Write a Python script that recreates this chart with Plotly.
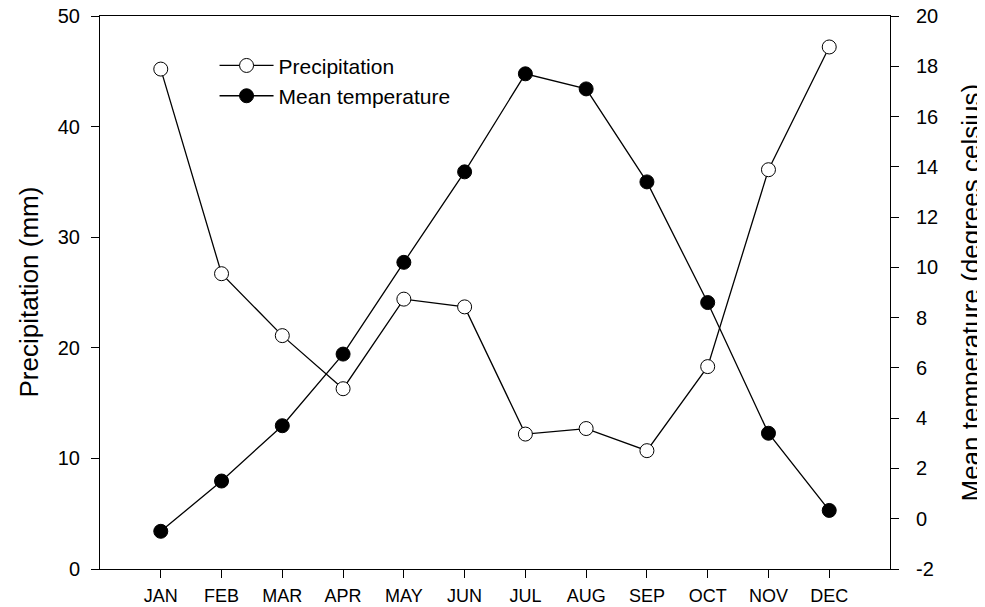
import plotly.graph_objects as go

months = ["JAN", "FEB", "MAR", "APR", "MAY", "JUN", "JUL", "AUG", "SEP", "OCT", "NOV", "DEC"]
month_pos = [1, 2, 3, 4, 5, 6, 7, 8, 9, 10, 11, 12]
precipitation = [45.2, 26.7, 21.1, 16.3, 24.4, 23.7, 12.2, 12.7, 10.7, 18.3, 36.1, 47.2]
mean_temperature = [-0.5, 1.5, 3.7, 6.55, 10.2, 13.8, 17.7, 17.1, 13.4, 8.6, 3.4, 0.33]

left_ticks = [0, 10, 20, 30, 40, 50]
right_ticks = [-2, 0, 2, 4, 6, 8, 10, 12, 14, 16, 18, 20]

FONT = "Arial, Liberation Sans, sans-serif"

fig = go.Figure()
fig.add_trace(go.Scatter(
    x=month_pos, y=precipitation, name="Precipitation",
    mode="lines+markers",
    line=dict(color="black", width=1.3),
    marker=dict(symbol="circle", size=14, color="white", line=dict(color="black", width=1)),
))
fig.add_trace(go.Scatter(
    x=month_pos, y=mean_temperature, name="Mean temperature",
    mode="lines+markers", yaxis="y2",
    line=dict(color="black", width=1.3),
    marker=dict(symbol="circle", size=14, color="black", line=dict(color="black", width=1)),
))

# The page adds an 8px body margin, so the figure is 16px smaller than the window.
fig.update_layout(
    width=977, height=599,
    margin=dict(l=92, r=95, t=8, b=38, autoexpand=False),
    paper_bgcolor="white", plot_bgcolor="white",
    font=dict(family=FONT, color="black", size=19),
    showlegend=True,
    legend=dict(
        x=0.145, y=0.947, xanchor="left", yanchor="top",
        bgcolor="rgba(0,0,0,0)", borderwidth=0,
        font=dict(family=FONT, size=21, color="black"),
        tracegroupgap=0, itemwidth=54,
    ),
    xaxis=dict(
        range=[0, 13], tickvals=month_pos, ticktext=months,
        showline=True, linecolor="black", linewidth=1, mirror=True,
        ticks="outside", ticklen=8, tickcolor="black", tickwidth=1,
        showgrid=False, zeroline=False, automargin=False,
        tickfont=dict(size=18), ticklabelstandoff=2,
        ticklabeloverflow="allow",
    ),
    yaxis=dict(
        range=[0, 50], tickvals=left_ticks,
        ticktext=[str(v) for v in left_ticks],
        showline=True, linecolor="black", linewidth=1,
        ticks="outside", ticklen=8, tickcolor="black", tickwidth=1,
        showgrid=False, zeroline=False, automargin=False,
        tickfont=dict(size=20), ticklabelstandoff=7,
        ticklabeloverflow="allow",
    ),
    yaxis2=dict(
        range=[-2, 20], tickvals=right_ticks,
        ticktext=[str(v) for v in right_ticks],
        overlaying="y", side="right",
        showline=True, linecolor="black", linewidth=1,
        ticks="outside", ticklen=8, tickcolor="black", tickwidth=1,
        showgrid=False, zeroline=False, automargin=False,
        tickfont=dict(size=20), ticklabelstandoff=13,
        ticklabeloverflow="allow",
    ),
    annotations=[
        dict(text="Precipitation (mm)", textangle=-90, showarrow=False,
             xref="paper", yref="paper", x=-0.0911, y=0.5,
             xanchor="center", yanchor="middle", font=dict(size=26)),
        dict(text="Mean temperature (degrees celsius)", textangle=-90, showarrow=False,
             xref="paper", yref="paper", x=1.1013, y=0.5,
             xanchor="center", yanchor="middle", font=dict(size=26)),
    ],
)

fig.write_html("out.html")
